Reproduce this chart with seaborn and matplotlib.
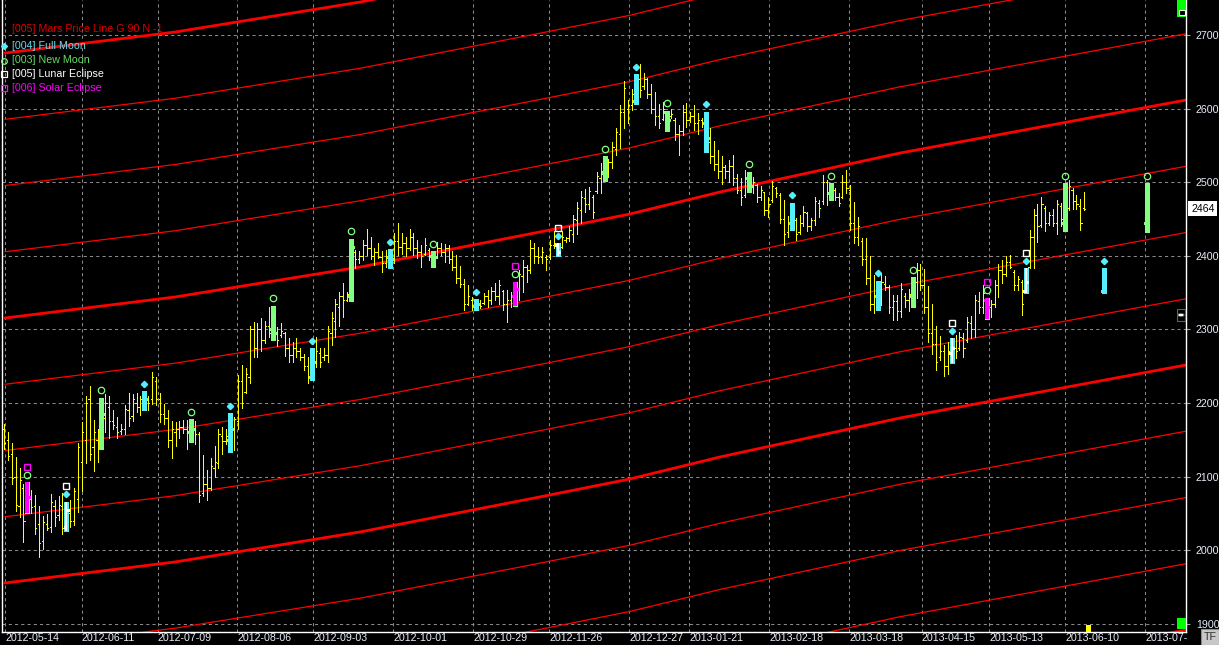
import numpy as np
import pandas as pd
import matplotlib
matplotlib.use("Agg")
import matplotlib.pyplot as plt
import matplotlib.transforms as mtransforms
from matplotlib.patches import Rectangle, Circle
import seaborn as sns

W, H, DPI = 1219, 645, 100

# ---------------- data ----------------
highs = [2171, 2161, 2145, 2126, 2111, 2090, 2092, 2082, 2075, 2060,
         2047, 2049, 2076, 2068, 2073, 2077, 2066, 2068, 2085, 2145,
         2174, 2210, 2223, 2177, 2165, 2207, 2212, 2210, 2191, 2181,
         2171, 2197, 2214, 2212, 2213, 2210, 2216, 2210, 2242, 2235,
         2213, 2199, 2190, 2175, 2174, 2176, 2177, 2177, 2178, 2176,
         2161, 2129, 2109, 2125, 2141, 2165, 2168, 2164, 2186, 2181,
         2238, 2252, 2247, 2305, 2310, 2308, 2316, 2312, 2330, 2332,
         2303, 2308, 2296, 2288, 2283, 2288, 2274, 2267, 2263, 2274,
         2290, 2274, 2274, 2304, 2323, 2341, 2351, 2363, 2351, 2423,
         2408, 2406, 2422, 2436, 2426, 2411, 2417, 2406, 2408, 2409,
         2431, 2444, 2431, 2425, 2436, 2431, 2422, 2415, 2424, 2410,
         2406, 2419, 2417, 2416, 2415, 2406, 2401, 2386, 2368, 2360,
         2344, 2341, 2340, 2349, 2354, 2358, 2363, 2367, 2354, 2354,
         2351, 2365, 2381, 2394, 2387, 2421, 2417, 2412, 2412, 2401,
         2421, 2433, 2417, 2433, 2426, 2440, 2456, 2473, 2488, 2491,
         2494, 2483, 2514, 2526, 2535, 2532, 2554, 2574, 2605, 2637,
         2612, 2627, 2647, 2661, 2648, 2642, 2634, 2622, 2606, 2609,
         2597, 2599, 2587, 2578, 2605, 2607, 2596, 2605, 2594, 2587,
         2596, 2573, 2556, 2544, 2535, 2523, 2530, 2537, 2511, 2505,
         2517, 2514, 2507, 2498, 2495, 2487, 2480, 2501, 2494, 2485,
         2476, 2454, 2472, 2451, 2455, 2468, 2460, 2451, 2480, 2476,
         2510, 2503, 2499, 2492, 2485, 2510, 2516, 2496, 2473, 2453,
         2424, 2424, 2400, 2374, 2366, 2376, 2372, 2360, 2347, 2347,
         2363, 2349, 2355, 2371, 2390, 2389, 2382, 2359, 2334, 2305,
         2291, 2279, 2283, 2288, 2292, 2297, 2295, 2317, 2318, 2347,
         2351, 2360, 2343, 2340, 2367, 2389, 2394, 2399, 2401, 2381,
         2372, 2367, 2383, 2435, 2464, 2471, 2480, 2467, 2460, 2464,
         2476, 2472, 2499, 2503, 2492, 2483, 2477, 2486]
lows = [2138, 2122, 2090, 2053, 2045, 2011, 2050, 2050, 2022, 1991,
        2002, 2027, 2025, 2033, 2041, 2022, 2026, 2031, 2034, 2052,
        2081, 2118, 2122, 2108, 2120, 2137, 2160, 2152, 2165, 2152,
        2158, 2158, 2169, 2176, 2188, 2183, 2191, 2190, 2199, 2197,
        2174, 2172, 2140, 2125, 2142, 2152, 2159, 2138, 2147, 2144,
        2065, 2073, 2068, 2082, 2100, 2111, 2130, 2144, 2133, 2136,
        2165, 2193, 2213, 2227, 2262, 2263, 2270, 2281, 2290, 2285,
        2277, 2290, 2264, 2255, 2256, 2263, 2258, 2245, 2227, 2231,
        2249, 2249, 2258, 2256, 2279, 2290, 2304, 2317, 2338, 2338,
        2383, 2390, 2394, 2401, 2395, 2388, 2397, 2378, 2385, 2383,
        2390, 2401, 2403, 2399, 2408, 2401, 2397, 2385, 2401, 2394,
        2385, 2397, 2401, 2392, 2390, 2381, 2363, 2358, 2326, 2333,
        2326, 2326, 2329, 2335, 2331, 2335, 2340, 2335, 2326, 2310,
        2331, 2332, 2340, 2351, 2365, 2376, 2390, 2390, 2390, 2381,
        2396, 2410, 2399, 2410, 2419, 2420, 2419, 2430, 2444, 2460,
        2464, 2451, 2485, 2485, 2502, 2507, 2519, 2537, 2546, 2573,
        2580, 2598, 2606, 2616, 2627, 2614, 2594, 2578, 2573, 2584,
        2569, 2587, 2557, 2537, 2564, 2575, 2582, 2571, 2566, 2575,
        2541, 2526, 2517, 2505, 2498, 2505, 2500, 2496, 2485, 2469,
        2480, 2487, 2485, 2473, 2476, 2455, 2453, 2473, 2480, 2444,
        2415, 2426, 2435, 2421, 2430, 2440, 2433, 2435, 2442, 2453,
        2471, 2469, 2476, 2476, 2467, 2478, 2485, 2435, 2417, 2415,
        2387, 2362, 2326, 2322, 2326, 2333, 2354, 2322, 2313, 2313,
        2317, 2331, 2325, 2331, 2342, 2353, 2322, 2283, 2267, 2245,
        2258, 2237, 2240, 2254, 2261, 2272, 2263, 2283, 2288, 2290,
        2322, 2322, 2314, 2317, 2331, 2344, 2363, 2372, 2383, 2353,
        2353, 2320, 2349, 2383, 2383, 2419, 2439, 2433, 2442, 2440,
        2430, 2440, 2433, 2462, 2464, 2463, 2435, 2462]
opens = [2165, 2150, 2130, 2100, 2060, 2085, 2058, 2070, 2060, 2035,
         2012, 2036, 2032, 2060, 2048, 2060, 2032, 2050, 2040, 2070,
         2120, 2150, 2205, 2140, 2150, 2145, 2180, 2195, 2175, 2168,
         2162, 2165, 2190, 2182, 2200, 2195, 2200, 2205, 2205, 2230,
         2205, 2185, 2180, 2150, 2160, 2165, 2168, 2165, 2160, 2165,
         2158, 2078, 2090, 2085, 2112, 2118, 2155, 2148, 2150, 2165,
         2175, 2230, 2215, 2235, 2300, 2275, 2300, 2285, 2305, 2300,
         2295, 2292, 2295, 2275, 2265, 2275, 2270, 2262, 2250, 2235,
         2255, 2268, 2262, 2265, 2295, 2312, 2330, 2345, 2340, 2345,
         2405, 2395, 2400, 2415, 2410, 2400, 2405, 2398, 2390, 2398,
         2395, 2420, 2412, 2418, 2410, 2425, 2410, 2405, 2402, 2408,
         2400, 2398, 2410, 2405, 2410, 2395, 2385, 2370, 2362, 2335,
         2340, 2332, 2335, 2336, 2345, 2340, 2352, 2345, 2352, 2335,
         2340, 2345, 2355, 2372, 2385, 2380, 2410, 2400, 2398, 2398,
         2398, 2415, 2415, 2412, 2422, 2424, 2430, 2448, 2462, 2478,
         2470, 2480, 2488, 2505, 2512, 2520, 2528, 2545, 2565, 2595,
         2600, 2605, 2610, 2640, 2630, 2640, 2620, 2600, 2590, 2586,
         2595, 2590, 2585, 2565, 2570, 2595, 2585, 2590, 2580, 2585,
         2580, 2555, 2535, 2525, 2515, 2520, 2515, 2522, 2505, 2490,
         2482, 2505, 2495, 2496, 2480, 2486, 2462, 2476, 2492, 2482,
         2450, 2432, 2445, 2448, 2432, 2445, 2458, 2440, 2448, 2472,
         2475, 2500, 2485, 2490, 2480, 2480, 2500, 2490, 2445, 2425,
         2420, 2395, 2370, 2335, 2345, 2340, 2362, 2358, 2330, 2338,
         2325, 2345, 2340, 2345, 2365, 2380, 2360, 2330, 2295, 2280,
         2262, 2270, 2250, 2268, 2275, 2275, 2288, 2285, 2308, 2300,
         2338, 2330, 2340, 2330, 2335, 2360, 2380, 2375, 2392, 2378,
         2360, 2365, 2352, 2385, 2425, 2455, 2442, 2465, 2445, 2455,
         2445, 2468, 2445, 2465, 2490, 2475, 2468, 2465]
closes = [2145, 2128, 2098, 2062, 2095, 2040, 2072, 2058, 2030, 2010,
          2038, 2030, 2066, 2045, 2062, 2030, 2055, 2040, 2080, 2140,
          2160, 2200, 2130, 2160, 2140, 2185, 2200, 2175, 2170, 2160,
          2165, 2192, 2180, 2205, 2195, 2205, 2205, 2200, 2235, 2205,
          2185, 2180, 2150, 2165, 2165, 2168, 2165, 2160, 2165, 2158,
          2075, 2090, 2085, 2115, 2120, 2158, 2148, 2155, 2165, 2178,
          2230, 2200, 2240, 2300, 2275, 2300, 2285, 2305, 2295, 2295,
          2285, 2298, 2275, 2265, 2275, 2270, 2262, 2250, 2235, 2255,
          2270, 2255, 2265, 2298, 2315, 2335, 2345, 2340, 2348, 2412,
          2395, 2400, 2415, 2410, 2400, 2405, 2398, 2390, 2400, 2395,
          2420, 2412, 2418, 2410, 2425, 2410, 2405, 2400, 2415, 2400,
          2398, 2410, 2405, 2410, 2395, 2385, 2370, 2362, 2335, 2345,
          2332, 2335, 2332, 2345, 2340, 2352, 2345, 2360, 2335, 2340,
          2345, 2355, 2375, 2385, 2380, 2410, 2400, 2398, 2405, 2395,
          2415, 2418, 2405, 2425, 2424, 2435, 2450, 2465, 2480, 2470,
          2488, 2460, 2508, 2515, 2520, 2528, 2548, 2568, 2595, 2628,
          2605, 2620, 2640, 2625, 2640, 2620, 2600, 2590, 2580, 2600,
          2585, 2592, 2565, 2570, 2595, 2585, 2590, 2580, 2585, 2580,
          2560, 2535, 2525, 2515, 2520, 2515, 2522, 2505, 2490, 2480,
          2505, 2495, 2500, 2480, 2490, 2462, 2470, 2495, 2485, 2450,
          2430, 2445, 2450, 2430, 2445, 2460, 2440, 2448, 2475, 2465,
          2500, 2485, 2490, 2480, 2472, 2500, 2492, 2445, 2425, 2440,
          2395, 2370, 2335, 2345, 2340, 2365, 2358, 2330, 2338, 2325,
          2355, 2340, 2348, 2365, 2380, 2360, 2330, 2295, 2280, 2255,
          2270, 2250, 2270, 2275, 2270, 2290, 2275, 2310, 2300, 2340,
          2330, 2350, 2330, 2335, 2360, 2380, 2375, 2392, 2385, 2360,
          2368, 2335, 2365, 2425, 2455, 2440, 2470, 2445, 2455, 2445,
          2470, 2450, 2460, 2495, 2475, 2470, 2445, 2464]

full_moon_idx = [16, 36, 58, 79, 99, 121, 142, 162, 180, 202, 224, 243, 262]
new_moon_idx = [6, 25, 48, 69, 89, 110, 131, 154, 170, 191, 212, 233, 252, 272]
lunar_eclipse_idx = [16, 142, 243, 262]
solar_eclipse_idx = [6, 131, 252]

# projected (future) moon-phase bars
proj_idx = [282, 293]
proj_kind = ["full", "new"]
proj_high = [2383, 2499]
proj_low = [2349, 2432]
proj_open = [2352, 2445]
proj_close = [2365, 2462]

# Mars price line (harmonic 90) base values at bar positions
mars_idx = [0.27, 43.9, 91.3, 137.4, 160.5, 183.6, 229.8, 303.1]
mars_base = [2315.4, 2344.0, 2384.7, 2432.3, 2456.7, 2486.6, 2539.6, 2611.6]
mars_harmonics = list(range(-9, 6))
mars_step = 90

tick_idx = [0.27, 19.9, 39.4, 59.8, 79.3, 99.8, 120.3, 139.8, 160.3, 175.7,
            196.2, 216.8, 235.3, 252.7, 272.1, 292.7]
tick_labels = ["2012-05-14", "2012-06-11", "2012-07-09", "2012-08-06", "2012-09-03",
               "2012-10-01", "2012-10-29", "2012-11-26", "2012-12-27", "2013-01-21",
               "2013-02-18", "2013-03-18", "2013-04-15", "2013-05-13", "2013-06-10",
               "2013-07-08"]
price_ticks = [1900, 2000, 2100, 2200, 2300, 2400, 2500, 2600, 2700]

legend_entries = ["[005] Mars Price Line G 90 N -1", "[004] Full Moon", "[003] New Moon",
                  "[005] Lunar Eclipse", "[006] Solar Eclipse"]

# ---------------- style ----------------
YELLOW = "#ffff00"
CYAN = "#55eeff"
GREEN = "#80ff80"
MAGENTA = "#ff00ff"
WHITE = "#ffffff"
RED = "#ff0000"
LABEL = "#e6ecf8"
FS = 7.7
BAR_LW = 0.72   # one pixel
TICK = 0.32     # open/close tick length in bar units

sns.set_theme(style="dark", rc={"axes.facecolor": "black", "figure.facecolor": "black"})
plt.rcParams["font.family"] = ["Liberation Sans", "DejaVu Sans"]

fig = plt.figure(figsize=(W / DPI, H / DPI), dpi=DPI, facecolor="black")
ax = fig.add_axes([2 / W, 1 - 632 / H, (1186 - 2) / W, 632 / H])
ax.set_facecolor("black")
ax.set_xlim(-0.5, 303.1)
ax.set_ylim(1888.8, 2747.5)

# grid
ax.set_xticks(tick_idx)
ax.set_yticks(price_ticks)
ax.grid(True, color="#8a8a8a", linestyle=(0, (3, 3)), linewidth=0.75)
ax.set_axisbelow(True)

# Mars price lines
rows = []
for k in mars_harmonics:
    for xi, b in zip(mars_idx, mars_base):
        rows.append((xi, b + k * mars_step, k, k % 4 == 0))
mars_df = pd.DataFrame(rows, columns=["idx", "price", "k", "thick"])
sns.lineplot(data=mars_df[~mars_df.thick], x="idx", y="price", units="k", estimator=None,
             color=RED, lw=0.9, ax=ax, legend=False, sort=False, zorder=2)
sns.lineplot(data=mars_df[mars_df.thick], x="idx", y="price", units="k", estimator=None,
             color=RED, lw=2.0, ax=ax, legend=False, sort=False, zorder=2)

# OHLC bars
bars = pd.DataFrame({"idx": np.arange(len(highs)), "open": opens, "high": highs,
                     "low": lows, "close": closes})
ax.vlines(bars.idx, bars.low, bars.high, color=YELLOW, lw=BAR_LW, zorder=3, antialiased=False)
ax.hlines(bars.open, bars.idx - TICK, bars.idx, color=YELLOW, lw=BAR_LW, zorder=3, antialiased=False)
ax.hlines(bars.close, bars.idx, bars.idx + TICK, color=YELLOW, lw=BAR_LW, zorder=3, antialiased=False)


def event_bars(sub, color, lw, z):
    ax.vlines(sub.idx, sub.low, sub.high, color=color, lw=lw, zorder=z, antialiased=False)
    ax.hlines(sub.open, sub.idx - 0.7, sub.idx, color=color, lw=1.0, zorder=z, antialiased=False)
    ax.hlines(sub.close, sub.idx, sub.idx + 0.7, color=color, lw=1.0, zorder=z, antialiased=False)


fm = bars.loc[full_moon_idx]
nm = bars.loc[new_moon_idx]
le = bars.loc[lunar_eclipse_idx]
se = bars.loc[solar_eclipse_idx]
event_bars(fm, CYAN, 2.2, 4)
event_bars(nm, GREEN, 2.2, 4)
event_bars(le, WHITE, 1.1, 5)
event_bars(se, MAGENTA, 1.5, 5)

proj = pd.DataFrame({"idx": proj_idx, "kind": proj_kind, "high": proj_high, "low": proj_low,
                     "open": proj_open, "close": proj_close})
event_bars(proj[proj.kind == "full"], CYAN, 2.2, 4)
event_bars(proj[proj.kind == "new"], GREEN, 2.2, 4)

# phase markers above the bars
fm_all = pd.concat([fm, proj[proj.kind == "full"]])
nm_all = pd.concat([nm, proj[proj.kind == "new"]])
ax.plot(fm_all.idx, fm_all.high + 10, ls="none", marker="D", ms=3.2, mfc=CYAN, mec=CYAN, zorder=6)
ax.plot(nm_all.idx, nm_all.high + 10, ls="none", marker="o", ms=4.6, mfc="none", mec=GREEN, mew=0.9, zorder=6)
ax.plot(le.idx, le.high + 21, ls="none", marker="s", ms=5.0, mfc="none", mec=WHITE, mew=1.0, zorder=6)
ax.plot(se.idx, se.high + 21, ls="none", marker="s", ms=5.0, mfc="none", mec=MAGENTA, mew=1.0, zorder=6)

# axes styling
for side in ["left", "right", "bottom"]:
    ax.spines[side].set_visible(True)
    ax.spines[side].set_color(WHITE)
    ax.spines[side].set_linewidth(1.0)
ax.spines["top"].set_visible(False)
ax.yaxis.tick_right()
ax.tick_params(axis="y", which="both", right=True, left=False, length=3, width=0.8,
               color="#a0a0a0", labelcolor=LABEL, labelsize=FS, pad=4)
ax.tick_params(axis="x", length=0, labelbottom=False)
ax.set_yticklabels([str(p) for p in price_ticks])
ax.set_xlabel("")
ax.set_ylabel("")


def fx(px):
    return px / W


def fy(py):
    return 1 - py / H


# date labels (clipped at the right border like the reference)
clip = mtransforms.TransformedBbox(mtransforms.Bbox([[0, 0], [1187 / W, 1]]), fig.transFigure)
trans_x = mtransforms.blended_transform_factory(ax.transData, fig.transFigure)
for xi, lab in zip(tick_idx, tick_labels):
    t = fig.text(xi, fy(638), lab, transform=trans_x, ha="left", va="center",
                 color=LABEL, fontsize=FS)
    t.set_clip_box(clip)
    t.set_clip_on(True)

# legend block (top-left)
leg_colors = ["#dd0000", "#66ddee", "#66dd66", WHITE, MAGENTA]
leg_y = [29, 46, 60, 74, 88]
for txt, col, y in zip(legend_entries, leg_colors, leg_y):
    fig.text(fx(12), fy(y), txt, color=col, fontsize=FS, ha="left", va="center")
fig.lines.append(plt.Line2D([fx(4)], [fy(46)], transform=fig.transFigure, marker="D", ms=3,
                            mfc=CYAN, mec=CYAN, ls="none"))
fig.lines.append(plt.Line2D([fx(4)], [fy(61)], transform=fig.transFigure, marker="o", ms=4,
                            mfc="none", mec=GREEN, mew=0.9, ls="none"))
fig.lines.append(plt.Line2D([fx(4)], [fy(74)], transform=fig.transFigure, marker="s", ms=4,
                            mfc="none", mec=WHITE, mew=0.9, ls="none"))
fig.lines.append(plt.Line2D([fx(4)], [fy(88)], transform=fig.transFigure, marker="s", ms=4,
                            mfc="none", mec=MAGENTA, mew=0.9, ls="none"))

# last price box
trans_y = mtransforms.blended_transform_factory(fig.transFigure, ax.transData)
fig.text(fx(1191), closes[-1], str(closes[-1]), transform=trans_y, ha="left", va="center",
         color="black", fontsize=FS,
         bbox=dict(boxstyle="square,pad=0.25", fc="white", ec="none"))


def px_rect(x0, y0, x1, y1, **kw):
    r = Rectangle((fx(x0), fy(y1)), (x1 - x0) / W, (y1 - y0) / H, transform=fig.transFigure, **kw)
    fig.add_artist(r)
    return r


# chart-window decorations
px_rect(1177, 0, 1186, 17, fc="#00ff00", ec="none", zorder=10)
px_rect(1178.5, 9.5, 1184.5, 15, fc="black", ec=WHITE, lw=0.8, zorder=11)
px_rect(1177, 618, 1186, 629, fc="#00ff00", ec="none", zorder=10)
px_rect(1177, 309, 1185, 321, fc="black", ec="#2a8a2a", lw=0.8, zorder=10)
fig.add_artist(Circle((fx(1181), fy(315)), 3.2 / W, transform=fig.transFigure, fc=WHITE,
                      ec="#404040", lw=0.6, zorder=11))
px_rect(1086, 625, 1091, 632, fc=YELLOW, ec="none", zorder=10)
px_rect(1201, 629, 1219, 645, fc="#c8c8c8", ec="#8a8a8a", lw=0.8, zorder=10)
fig.text(fx(1210), fy(637.5), "TF", ha="center", va="center", color="#303030",
         fontsize=FS, zorder=11)

fig.savefig("out.png", dpi=DPI, facecolor="black")
